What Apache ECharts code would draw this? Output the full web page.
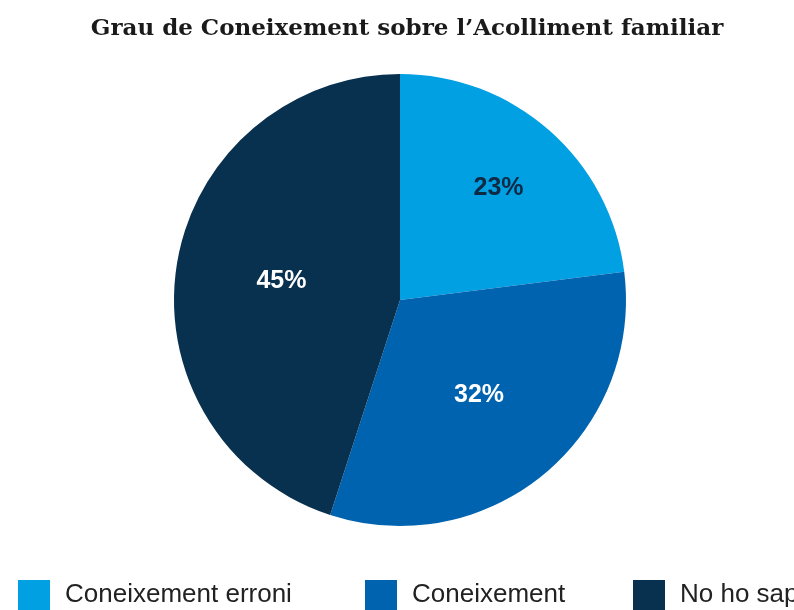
<!DOCTYPE html>
<html>
<head>
<meta charset="utf-8">
<script src="https://cdn.jsdelivr.net/npm/echarts@6/dist/echarts.min.js"></script>
<style>
  html, body { margin: 0; padding: 0; background: #fff; }
  #chart { width: 794px; height: 610px; }
</style>
</head>
<body>
<div id="chart"></div>
<script>
// Grau de Coneixement sobre l'Acolliment familiar
const categories = ["Coneixement erroni", "Coneixement", "No ho sap"];
const values = [23, 32, 45];
const colors = ["#00A0E3", "#0063B0", "#08304F"];
const labelColors = ["#0E2A45", "#ffffff", "#ffffff"];

const chart = echarts.init(document.getElementById("chart"), null, { renderer: "canvas" });

const pieData = categories.map((name, i) => ({
  name,
  value: values[i],
  itemStyle: { color: colors[i] },
}));

// legend items sit at their own spots along the bottom
const legendLeft = [13, 360, 628];
const legends = categories.map((name, i) => ({
  data: [name],
  left: legendLeft[i],
  top: 575,
  orient: "horizontal",
  icon: "rect",
  itemWidth: 32,
  itemHeight: 30,
  textStyle: {
    fontFamily: "Liberation Sans, Arial, sans-serif",
    fontSize: 26,
    color: "#222",
    padding: [0, 0, 0, 10],
  },
  selectedMode: false,
}));

const labelStyle = {
  position: "inside",
  formatter: "{c}%",
  fontFamily: "Liberation Sans, Arial, sans-serif",
  fontWeight: "bold",
  fontSize: 25,
};

// transparent ring used only to place labels at a given distance from the centre
function labelRing(inner, showIdx) {
  return {
    type: "pie",
    silent: true,
    center: [400, 300],
    radius: [inner, 226],
    startAngle: 90,
    clockwise: true,
    data: pieData.map((d, i) => ({
      name: d.name,
      value: d.value,
      itemStyle: { color: "transparent" },
      label: { show: showIdx.includes(i), color: labelColors[i] },
    })),
    label: labelStyle,
    labelLine: { show: false },
    emphasis: { disabled: true },
  };
}

const option = {
  animation: false,
  title: {
    text: "Grau de Coneixement sobre l\u2019Acolliment familiar",
    left: 402,
    textAlign: "center",
    top: 13,
    textStyle: {
      fontFamily: "DejaVu Serif, Georgia, serif",
      fontWeight: "bold",
      fontSize: 23,
      color: "#1a1a1a",
    },
  },
  legend: legends,
  series: [
    {
      name: "main",
      type: "pie",
      center: [400, 300],
      radius: [0, 226],
      startAngle: 90,
      clockwise: true,
      data: pieData,
      label: { show: false },
      labelLine: { show: false },
      itemStyle: { borderWidth: 0 },
      emphasis: { disabled: true },
    },
    labelRing(66, [0]),
    labelRing(16, [1]),
    labelRing(8, [2]),
  ],
};

chart.setOption(option, true);
</script>
</body>
</html>
